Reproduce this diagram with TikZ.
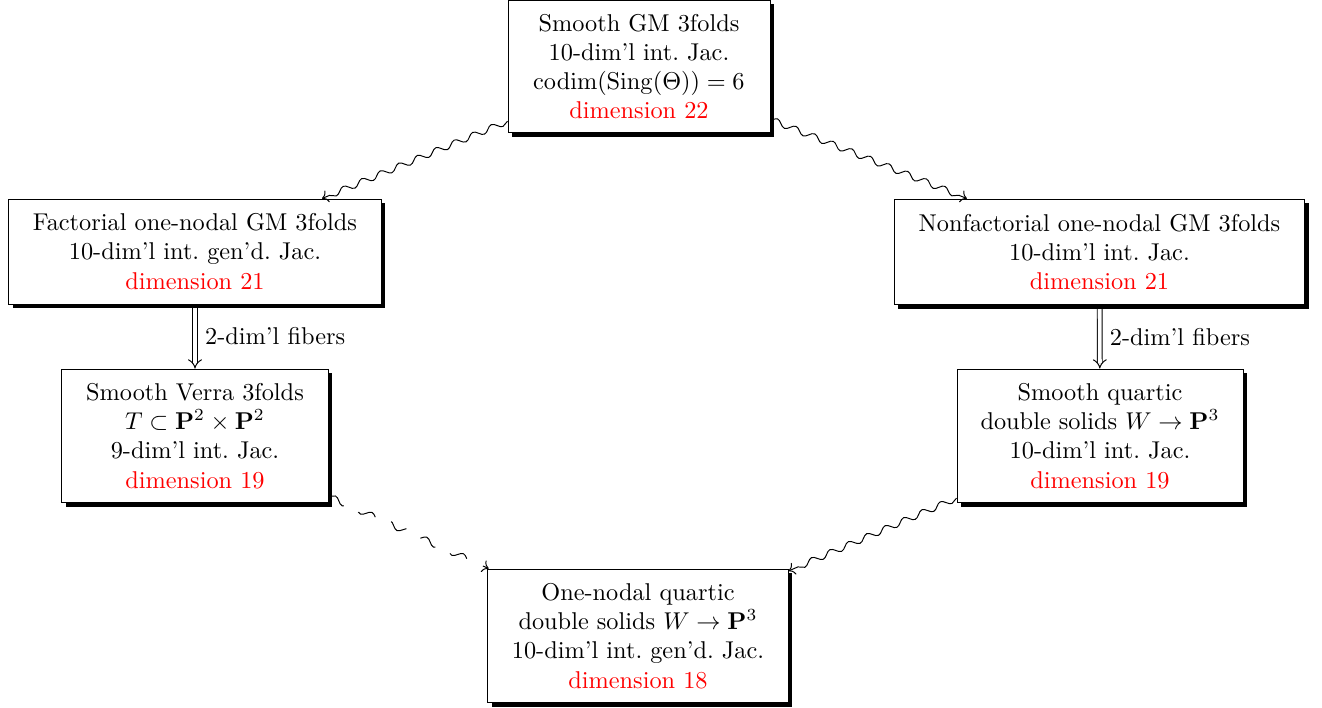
\documentclass[tikz,border=0pt]{standalone}
\usetikzlibrary{shadows,decorations.pathmorphing,arrows.meta}
\begin{document}
\begin{tikzpicture}[x=0.4115pt,y=-0.4115pt,
  box/.style={draw,fill=white,align=center,inner sep=0pt,
    drop shadow={shadow xshift=1.5pt,shadow yshift=-1.5pt,opacity=1,fill=black}},
  squig/.style={->,decorate,decoration={snake,amplitude=.45mm,segment length=2.9mm,post length=1mm}},
  dsquig/.style={squig,dash pattern=on 8.5pt off 8pt},
  dbl/.style={double,double distance=1.6pt,-{Implies},shorten <=1.5pt},
  lab/.style={right,inner sep=4pt}]
\useasboundingbox (0,0) rectangle (1322,708);
\node[box,minimum width=107.8pt,minimum height=54.7pt] (top) at (639,66.5)
  {Smooth GM 3folds\\10-dim'l int.\ Jac.\\$\mathrm{codim}(\mathrm{Sing}(\Theta))=6$\\\textcolor{red}{dimension 22}};
\node[box,minimum width=153.1pt,minimum height=43.2pt] (fact) at (195,251.5)
  {Factorial one-nodal GM 3folds\\10-dim'l int.\ gen'd.\ Jac.\\\textcolor{red}{dimension 21}};
\node[box,minimum width=169.1pt,minimum height=43.6pt] (nonfact) at (1099.5,252)
  {Nonfactorial one-nodal GM 3folds\\10-dim'l int.\ Jac.\\\textcolor{red}{dimension 21}};
\node[box,minimum width=109.5pt,minimum height=55.1pt] (verra) at (195,436)
  {Smooth Verra 3folds\\$T\subset\mathbf{P}^2\times\mathbf{P}^2$\\9-dim'l int.\ Jac.\\\textcolor{red}{dimension 19}};
\node[box,minimum width=117.7pt,minimum height=55.1pt] (quartic) at (1100,436)
  {Smooth quartic\\double solids $W\to\mathbf{P}^3$\\10-dim'l int.\ Jac.\\\textcolor{red}{dimension 19}};
\node[box,minimum width=123.5pt,minimum height=55.1pt] (bottom) at (638,636)
  {One-nodal quartic\\double solids $W\to\mathbf{P}^3$\\10-dim'l int.\ gen'd.\ Jac.\\\textcolor{red}{dimension 18}};
\draw[squig] (top) -- (fact);
\draw[squig] (top) -- (nonfact);
\draw[dsquig] (verra) -- (bottom);
\draw[squig] (quartic) -- (bottom);
\draw[dbl] (fact) -- node[lab] {2-dim'l fibers} (verra);
\draw[dbl] (nonfact) -- node[lab] {2-dim'l fibers} (quartic);
\end{tikzpicture}
\end{document}
